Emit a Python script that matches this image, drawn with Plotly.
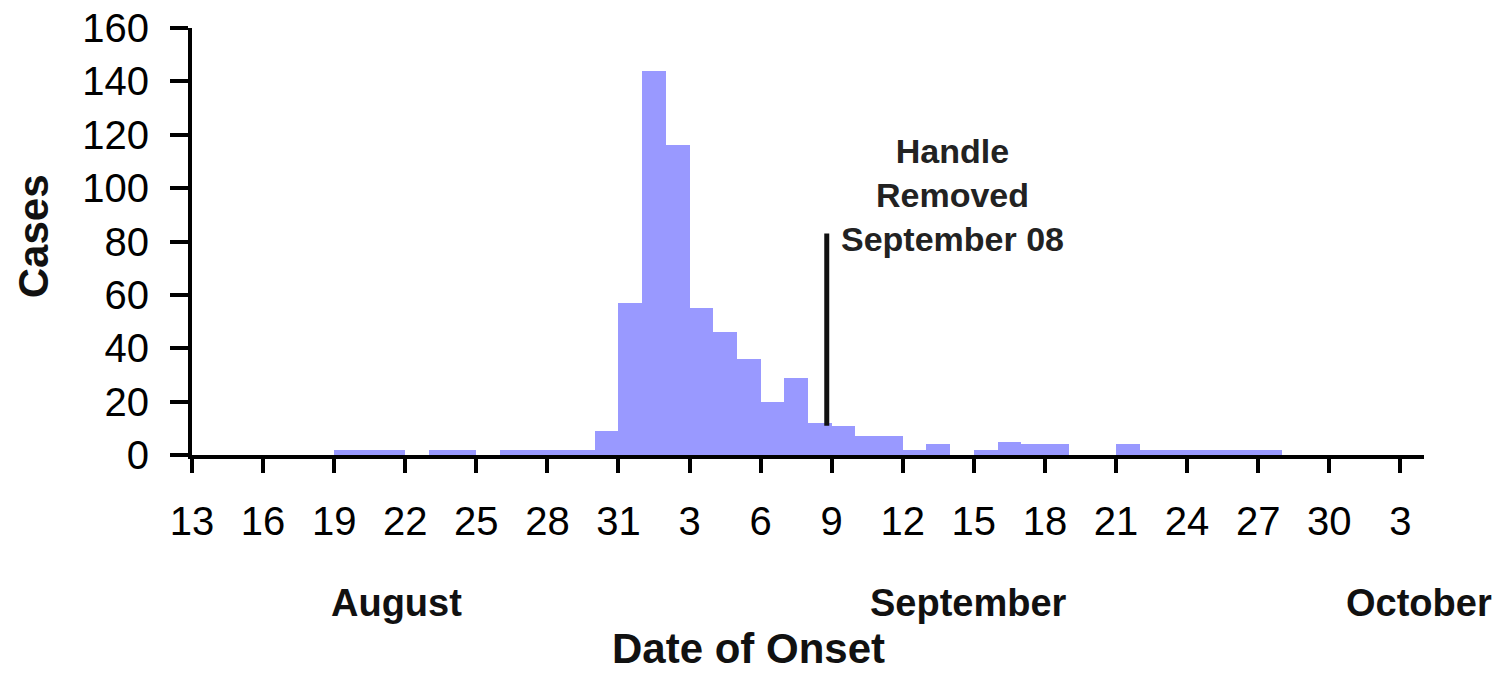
import plotly.graph_objects as go

# Daily cases (date of onset)
dates = [
    "1854-08-19", "1854-08-20", "1854-08-21", "1854-08-23", "1854-08-24",
    "1854-08-26", "1854-08-27", "1854-08-28", "1854-08-29", "1854-08-30",
    "1854-08-31", "1854-09-01", "1854-09-02", "1854-09-03", "1854-09-04",
    "1854-09-05", "1854-09-06", "1854-09-07", "1854-09-08", "1854-09-09",
    "1854-09-10", "1854-09-11", "1854-09-12", "1854-09-13", "1854-09-15",
    "1854-09-16", "1854-09-17", "1854-09-18", "1854-09-21", "1854-09-22",
    "1854-09-23", "1854-09-24", "1854-09-25", "1854-09-26", "1854-09-27",
]
cases = [
    2, 2, 2, 2, 2,
    2, 2, 2, 2, 9,
    57, 144, 116, 55, 46,
    36, 20, 29, 12, 11,
    7, 7, 2, 4, 2,
    5, 4, 4, 4, 2,
    2, 2, 2, 2, 2,
]

month_labels = ["August", "September", "October"]
month_pos = [0.166, 0.63, 0.996]

handle_removed_date = "1854-09-08 19:00"
handle_line_range = [11, 83]
handle_text = "Handle<br>Removed<br>September 08"
handle_text_date = "1854-09-14 02:00"
handle_text_y = 97.5

FONT = "Liberation Sans, Arial, sans-serif"
DAY_MS = 86400000

fig = go.Figure()
fig.add_trace(go.Bar(
    x=dates, y=cases, width=DAY_MS, offset=0,
    marker=dict(color="#9999ff", line=dict(width=0)),
    showlegend=False,
))

fig.add_shape(
    type="line", xref="x", yref="y",
    x0=handle_removed_date, x1=handle_removed_date,
    y0=handle_line_range[0], y1=handle_line_range[1],
    line=dict(color="#111111", width=5),
)

annotations = [
    dict(text=handle_text, x=handle_text_date, y=handle_text_y, xref="x", yref="y",
         showarrow=False, xanchor="center", yanchor="middle",
         font=dict(family=FONT, size=34, color="#222222", weight="bold")),
    dict(text="Date of Onset", x=0.452, y=-0.452, xref="paper", yref="paper",
         showarrow=False, xanchor="center", yanchor="middle",
         font=dict(family=FONT, size=42, color="#111111", weight="bold")),
    dict(text="Cases", x=-0.128, y=0.513, xref="paper", yref="paper", textangle=-90,
         showarrow=False, xanchor="center", yanchor="middle",
         font=dict(family=FONT, size=42, color="#111111", weight="bold")),
]
for lab, pos in zip(month_labels, month_pos):
    annotations.append(dict(
        text=lab, x=pos, y=-0.347, xref="paper", yref="paper",
        showarrow=False, xanchor="center", yanchor="middle",
        font=dict(family=FONT, size=38, color="#111111", weight="bold")))

fig.update_layout(
    width=1503, height=674,
    margin=dict(l=192, r=79, t=28, b=219),
    paper_bgcolor="white", plot_bgcolor="white",
    bargap=0,
    annotations=annotations,
    xaxis=dict(
        type="date", range=["1854-08-13", "1854-10-04"],
        tick0="1854-08-13", dtick=3 * DAY_MS, tickformat="%-d",
        showgrid=False, zeroline=False, automargin=False,
        showline=True, linecolor="black", linewidth=4,
        ticks="outside", ticklen=14, tickwidth=4, tickcolor="black",
        tickfont=dict(family=FONT, size=40, color="black"),
        ticklabelstandoff=14, ticklabeloverflow="allow",
    ),
    yaxis=dict(
        range=[0, 160], dtick=20,
        showgrid=False, zeroline=False, automargin=False,
        showline=True, linecolor="black", linewidth=4,
        ticks="outside", ticklen=18, tickwidth=4, tickcolor="black",
        tickfont=dict(family=FONT, size=40, color="black"),
        ticklabelstandoff=13, ticklabeloverflow="allow",
    ),
)

fig.write_html(
    "out.html",
    config={"displayModeBar": False},
    post_script="document.body.style.margin='0';document.body.style.overflow='hidden';",
)
